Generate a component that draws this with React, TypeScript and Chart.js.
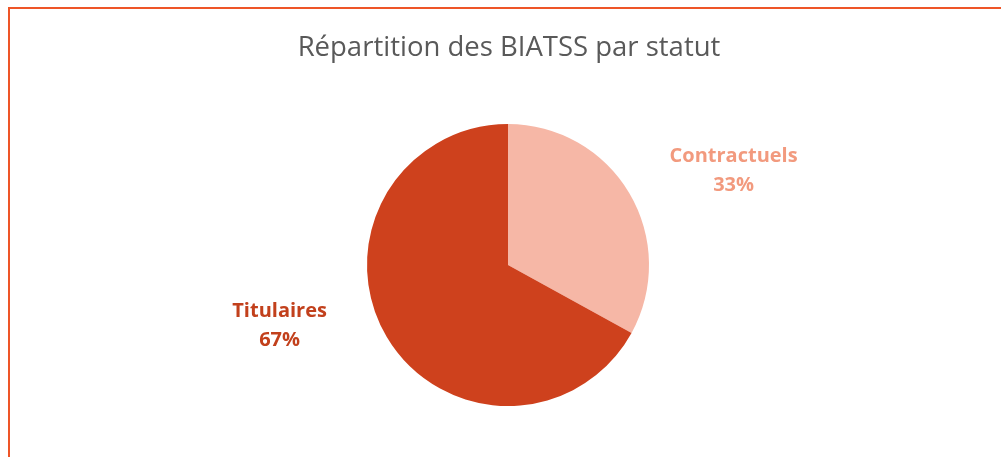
import React, { useEffect, useRef } from "react";
import { Chart, registerables } from "chart.js";

Chart.register(...registerables);

const titleText = "Répartition des BIATSS par statut";
const categories = ["Contractuels", "Titulaires"];
const values = [33, 67];
const percentLabels = ["33%", "67%"];
const sliceColors = ["#F6B7A6", "#CE411D"];
const labelColors = ["#F29A7E", "#C2401C"];
// label offsets relative to pie center, in units of pie radius
const labelOffsets = [
  [1.6, -0.67],
  [-1.62, 0.43],
];

const FONT = "'Open Sans', 'Liberation Sans', sans-serif";

const decorPlugin = {
  id: "decor",
  beforeDraw(chart: any) {
    const ctx = chart.ctx;
    ctx.save();
    ctx.fillStyle = "#ffffff";
    ctx.fillRect(0, 0, chart.width, chart.height);
    ctx.fillStyle = "#EE5528";
    ctx.fillRect(8, 7, 2, chart.height);
    ctx.fillRect(8, 7, chart.width, 2);
    ctx.restore();
  },
  afterDraw(chart: any) {
    const ctx = chart.ctx;
    ctx.save();
    ctx.fillStyle = "#595959";
    ctx.font = `27.5px ${FONT}`;
    ctx.textAlign = "center";
    ctx.textBaseline = "middle";
    ctx.fillText(titleText, 509, 48);

    const meta = chart.getDatasetMeta(0);
    meta.data.forEach((arc: any, i: number) => {
      const { x, y, outerRadius } = arc.getProps(["x", "y", "outerRadius"], true);
      const lx = x + labelOffsets[i][0] * outerRadius;
      const ly = y + labelOffsets[i][1] * outerRadius;
      ctx.fillStyle = labelColors[i];
      ctx.font = `bold 20px ${FONT}`;
      ctx.textAlign = "center";
      ctx.textBaseline = "middle";
      ctx.fillText(categories[i], lx, ly - 14);
      ctx.fillText(percentLabels[i], lx, ly + 15);
    });
    ctx.restore();
  },
};

export default function App() {
  const canvasRef = useRef<HTMLCanvasElement | null>(null);

  useEffect(() => {
    if (!canvasRef.current) return;
    const chart = new Chart(canvasRef.current, {
      type: "pie",
      data: {
        labels: categories,
        datasets: [
          {
            data: values,
            backgroundColor: sliceColors,
            borderWidth: 0,
          },
        ],
      },
      options: {
        animation: false,
        responsive: true,
        maintainAspectRatio: false,
        layout: { padding: { left: 367, right: 352, top: 124, bottom: 51 } },
        plugins: {
          legend: { display: false },
          title: { display: false },
          tooltip: { enabled: false },
        },
      },
      plugins: [decorPlugin],
    });
    return () => chart.destroy();
  }, []);

  return (
    <div style={{ position: "fixed", left: 0, top: 0, width: 1001, height: 457, background: "#fff" }}>
      <canvas ref={canvasRef} />
    </div>
  );
}
